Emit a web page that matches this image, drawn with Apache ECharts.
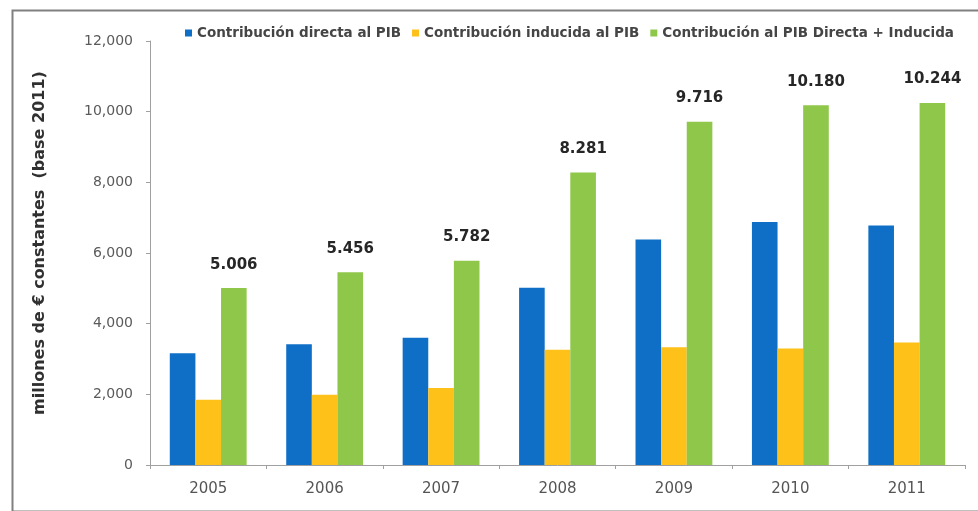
<!DOCTYPE html>
<html>
<head>
<meta charset="utf-8">
<script src="https://cdn.jsdelivr.net/npm/echarts@6/dist/echarts.min.js"></script>
<style>html,body{margin:0;padding:0;background:#fff;}#c{width:978px;height:511px;}</style>
</head>
<body>
<div id="c"></div>
<script>
const categories = ['2005', '2006', '2007', '2008', '2009', '2010', '2011'];
const directa = [3160, 3420, 3600, 5020, 6380, 6880, 6780];
const inducida = [1846, 1990, 2180, 3260, 3336, 3300, 3464];
const total = [5006, 5456, 5782, 8281, 9716, 10180, 10244];
const seriesNames = ['Contribución directa al PIB', 'Contribución inducida al PIB', 'Contribución al PIB Directa + Inducida'];
const yTicks = { min: 0, max: 12000, interval: 2000 };

const chart = echarts.init(document.getElementById('c'));
const fmtComma = v => String(v).replace(/\B(?=(\d{3})+(?!\d))/g, ',');
const fmtDot = v => String(v).replace(/\B(?=(\d{3})+(?!\d))/g, '.');
chart.setOption({
  animation: false,
  graphic: [{
    type: 'rect', left: 10, top: 8, shape: { width: 1000, height: 501 },
    style: { fill: 'none', stroke: '#808080', lineWidth: 2 }, silent: true
  }],
  legend: {
    top: 21, left: 180,
    itemWidth: 7, itemHeight: 7, itemGap: 11,
    icon: 'rect',
    textStyle: { fontFamily: 'DejaVu Sans', fontSize: 13.5, fontWeight: 'bold', color: '#454545', padding: [0, 0, 0, 0] },
    data: seriesNames
  },
  grid: { left: 150, right: 13, top: 41, bottom: 46 },
  xAxis: {
    type: 'category', data: categories,
    axisLine: { lineStyle: { color: '#a0a0a0' } },
    axisTick: { show: true, length: 4, lineStyle: { color: '#a0a0a0' } },
    axisLabel: { color: '#555555', fontSize: 15, fontFamily: 'DejaVu Sans', margin: 17 }
  },
  yAxis: {
    type: 'value', min: yTicks.min, max: yTicks.max, interval: yTicks.interval,
    name: 'millones de € constantes  (base 2011)',
    nameLocation: 'middle', nameGap: 102, nameRotate: 90,
    nameTextStyle: { fontFamily: 'DejaVu Sans', fontSize: 16, fontWeight: 'bold', color: '#303030', padding: [0, 0, 0, 20] },
    axisLine: { show: true, lineStyle: { color: '#a0a0a0' } },
    axisTick: { show: true, length: 4, lineStyle: { color: '#a0a0a0' } },
    splitLine: { show: false },
    axisLabel: { color: '#5a5a5a', fontSize: 14, fontFamily: 'DejaVu Sans', margin: 17, formatter: fmtComma }
  },
  series: [
    { name: seriesNames[0], type: 'bar', data: directa, barGap: '0%', barCategoryGap: '34%', itemStyle: { color: '#0f6fc6' } },
    { name: seriesNames[1], type: 'bar', data: inducida, barGap: '0%', barCategoryGap: '34%', itemStyle: { color: '#fdc11a' } },
    { name: seriesNames[2], type: 'bar', data: total, barGap: '0%', barCategoryGap: '34%', itemStyle: { color: '#8fc74a' },
      label: { show: true, position: 'top', distance: 16, formatter: p => fmtDot(p.value),
        fontFamily: 'DejaVu Sans', fontWeight: 'bold', fontSize: 15, color: '#262626' } }
  ]
});
</script>
</body>
</html>
